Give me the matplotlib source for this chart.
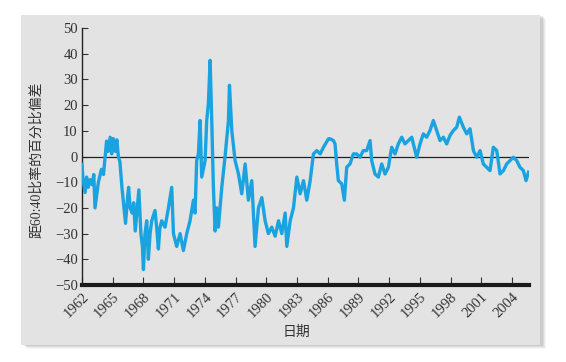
import matplotlib
matplotlib.use("Agg")
import matplotlib.pyplot as plt
from matplotlib.patches import Rectangle

# Deviation from a 60:40 ratio (percent)
years = [
    1962.00, 1962.10, 1962.30, 1962.45, 1962.60, 1962.80, 1963.00, 1963.15,
    1963.27, 1963.60, 1963.90, 1964.10, 1964.40, 1964.55, 1964.75, 1964.90,
    1965.05, 1965.25, 1965.40, 1965.55, 1965.70, 1965.90, 1966.10, 1966.25,
    1966.45, 1966.55, 1966.70, 1966.90, 1967.05, 1967.20, 1967.40, 1967.55,
    1967.75, 1967.90, 1968.00, 1968.15, 1968.32, 1968.48, 1968.65, 1968.81,
    1969.13, 1969.30, 1969.46, 1969.60, 1969.78, 1970.11, 1970.44, 1970.76,
    1970.93, 1971.25, 1971.58, 1971.90, 1972.23, 1972.55, 1972.88, 1973.04,
    1973.20, 1973.37, 1973.53, 1973.69, 1974.02, 1974.18, 1974.34, 1974.51,
    1974.67, 1974.83, 1975.00, 1975.16, 1975.32, 1975.65, 1975.97, 1976.30,
    1976.40, 1976.63, 1976.95, 1977.28, 1977.60, 1977.93, 1978.25, 1978.58,
    1978.90, 1979.23, 1979.56, 1979.88, 1980.20, 1980.53, 1980.86, 1981.19,
    1981.51, 1981.84, 1982.00, 1982.33, 1982.65, 1982.98, 1983.30, 1983.63,
    1983.95, 1984.28, 1984.60, 1984.93, 1985.26, 1985.58, 1986.07, 1986.22,
    1986.55, 1986.71, 1986.87, 1987.03, 1987.36, 1987.62, 1987.85, 1988.17,
    1988.50, 1988.82, 1989.15, 1989.47, 1989.80, 1990.13, 1990.29, 1990.61,
    1990.94, 1991.27, 1991.59, 1991.92, 1992.24, 1992.57, 1992.89, 1993.22,
    1993.54, 1993.87, 1994.20, 1994.52, 1994.68, 1995.01, 1995.33, 1995.66,
    1995.98, 1996.31, 1996.64, 1996.96, 1997.29, 1997.61, 1997.94, 1998.26,
    1998.59, 1998.85, 1999.24, 1999.57, 1999.89, 2000.22, 2000.54, 2000.87,
    2001.19, 2001.52, 2001.84, 2002.17, 2002.50, 2002.82, 2003.15, 2003.47,
    2003.80, 2004.12, 2004.45, 2004.77, 2005.10, 2005.36, 2005.60,
]
deviation = [
    -3, -9, -14, -8, -12, -9, -11, -7,
    -20, -10, -5, -7, 6, 2, 7.5, 1,
    7, 2, 6.5, 0, -2, -12, -20, -26,
    -16, -12, -20, -22, -18, -29, -20, -13,
    -30, -35, -44, -30, -25, -40, -30, -25,
    -21, -28, -36, -28, -25, -27.5, -20, -12,
    -30, -35, -30, -36.6, -30, -25, -17, -22,
    -1.6, 1, 14, -8, -1.6, 14, 20.5, 37.4,
    14, -12, -29, -20, -27.5, -12, 0, 14,
    27.7, 10, -1.6, -6.8, -14.5, -2.9, -17, -9.4,
    -35, -20, -16, -25, -30, -27.5, -31, -25,
    -30, -22, -35, -25, -20, -8, -14.5, -9.4,
    -17, -9.4, 1, 2.3, 1, 3.6, 6.9, 6.9,
    6.2, 4.9, -2.9, -9.4, -10.6, -17, -4.2, -2.9,
    1, 1, -0.3, 2.3, 2.3, 6.2, -1.6, -6.8,
    -8, -2.9, -6.8, -4.2, 3.6, 1, 4.9, 7.5,
    4.9, 6.2, 7.5, 2.3, -0.3, 4.9, 8.8, 7.5,
    10.1, 14, 10.1, 6.2, 7.5, 4.9, 8.2, 10.1,
    11.4, 15.3, 11.4, 8.8, 10.8, 2.3, -0.3, 2.3,
    -2.9, -4.2, -5.5, 3.6, 2.3, -6.8, -5.5, -2.9,
    -1.6, -0.3, -1.6, -4.2, -5.5, -9.4, -6.1,
]
xticks = list(range(1962, 2005, 3))
yticks = list(range(-50, 51, 10))

panel = "#e3e3e3"
blue = "#19a3e0"
serif = ["Liberation Serif", "Noto Sans CJK SC"]

W, H = 566, 362
fig = plt.figure(figsize=(W / 100, H / 100), dpi=100)
fig.patch.set_facecolor("white")

# soft shadow behind the grey card
for i, a in enumerate([0.05, 0.07, 0.09, 0.12]):
    off = 4 - i
    fig.add_artist(Rectangle(((21 + off + 2) / W, 1 - (345 + off) / H),
                             519 / W, 330 / H, transform=fig.transFigure,
                             facecolor="#555555", edgecolor="none", alpha=a, zorder=-2))
fig.add_artist(Rectangle((21 / W, 1 - 345 / H), 519 / W, 330 / H,
                         transform=fig.transFigure, facecolor=panel,
                         edgecolor="none", zorder=-1))

ax = fig.add_axes([82 / W, 1 - 285 / H, (529 - 82) / W, (285 - 28) / H], zorder=2)
ax.set_facecolor("none")
ax.plot(years, deviation, color=blue, lw=2.4, solid_joinstyle="round", zorder=3)
ax.axhline(0, color="#222222", lw=0.9, zorder=2)

ax.set_xlim(1962, 2005.65)
ax.set_ylim(-50, 50)
ax.set_xticks(xticks)
ax.set_yticks(yticks)
ax.set_yticklabels([str(v).replace("-", "\u2212") for v in yticks],
                   family=serif, fontsize=10.5, color="#333333")
ax.set_xticklabels([str(v) for v in xticks], family=serif, fontsize=10.5,
                   color="#333333", rotation=45, ha="right", va="top",
                   rotation_mode="anchor")

for s in ["top", "right"]:
    ax.spines[s].set_visible(False)
ax.spines["left"].set_linewidth(1.0)
ax.spines["left"].set_color("#222222")
ax.spines["bottom"].set_linewidth(3.0)
ax.spines["bottom"].set_color("#1a1a1a")
ax.tick_params(axis="y", direction="in", length=4, width=0.8, pad=3, color="#333333")
ax.tick_params(axis="x", direction="in", length=6, width=0.8, pad=4, color="#333333")

fig.text(37 / W, 1 - 160 / H, "距60:40比率的百分比偏差", rotation=90,
         ha="center", va="center", family=serif, fontsize=10, color="#333333")
fig.text(296 / W, 1 - 332 / H, "日期", ha="center", va="center",
         family=serif, fontsize=10, color="#333333")

fig.savefig("out.png", dpi=100, facecolor="white")
